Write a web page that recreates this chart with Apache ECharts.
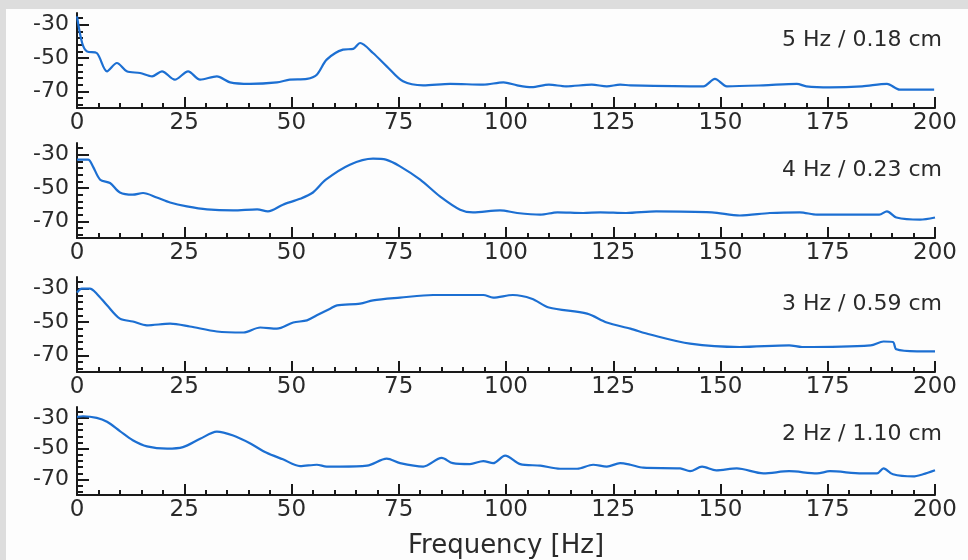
<!DOCTYPE html>
<html>
<head>
<meta charset="utf-8">
<script src="https://cdn.jsdelivr.net/npm/echarts@6/dist/echarts.min.js"></script>
<style>
  body { margin: 0; background: #dddddd; }
  #frame { position: absolute; left: 6px; top: 9px; width: 962px; height: 551px; background: #fdfdfd; }
  #chart { position: absolute; left: 0; top: 0; width: 968px; height: 560px; }
</style>
</head>
<body>
<div id="frame"></div>
<div id="chart"></div>
<script>
// spectra: [frequency Hz, level]
const spec5Hz = [[0,-25],[1.2,-41],[2.3,-46],[4.6,-47],[7,-58],[9.3,-53],[11.6,-58],[14.7,-59],[17.5,-61],[19.8,-58],[22.8,-63],[25.9,-58],[28.7,-63],[32.6,-61],[35.7,-64.6],[40.3,-65.5],[46.6,-64.6],[49.6,-63],[53.6,-62.5],[55.9,-60],[58.2,-51],[62,-45],[64.4,-44.5],[66,-41],[69,-47],[72.2,-55],[76,-64],[80.7,-66.4],[87,-65.5],[94.7,-66],[99.4,-64.6],[102.6,-66.4],[106,-67.5],[110,-66],[114,-67],[120,-66],[123.5,-67],[126.6,-66],[129,-66.4],[146,-67],[148.7,-62.5],[151.5,-67],[160,-66.4],[167.8,-65.5],[170,-67],[175.5,-67.6],[183,-67],[188.8,-65.5],[191.8,-69],[199.8,-69]]
const spec4Hz = [[0,-33],[2.6,-33],[3.7,-37],[5.4,-45],[7.7,-47],[10,-52.7],[13,-54],[15.4,-53],[18.6,-55.7],[21.7,-58.7],[25.6,-61],[30.3,-62.8],[36.4,-63.4],[42,-62.8],[44.5,-64],[48,-60],[52,-56.5],[55,-52.7],[58,-45],[63.6,-36],[69,-32.4],[72,-33],[75.3,-37],[80,-45],[84.6,-55],[89.3,-63],[92.3,-64.6],[98.6,-63.4],[102.6,-65],[108,-66],[112,-64.6],[118,-65],[122,-64.6],[128,-65],[135,-64],[148,-64.6],[154.5,-66.5],[161.5,-65],[168.5,-64.6],[172.5,-66],[187,-66],[188.8,-64],[191,-67.7],[196.5,-69],[200,-67.7]]
const spec3Hz = [[0,-32.4],[1.1,-30],[3,-30],[4.6,-33],[7,-40],[10,-48],[13,-49.7],[16.3,-52],[21.7,-51],[26.3,-52.7],[32.6,-55.7],[38.8,-56.3],[42.7,-53.3],[46.6,-54],[50.4,-50.3],[53.6,-49],[55.9,-46],[59,-42],[60.6,-40],[66,-39],[69,-37],[75.3,-35.4],[83,-33.8],[94.7,-33.8],[97,-35.4],[101.6,-33.8],[106,-36],[110,-41.3],[118.9,-45],[123.5,-50.3],[129,-54],[133.6,-57.5],[142.9,-63],[154.5,-65],[166,-64],[169,-65],[185,-64],[188,-61.7],[190.2,-62],[191,-66.4],[195.8,-67.6],[200,-67.6]]
const spec2Hz = [[0,-29.4],[1.4,-29],[4.6,-30],[7,-32.6],[10,-38.6],[13,-44.5],[16.3,-48.5],[21,-50],[24.7,-49],[28.7,-43.6],[32.6,-39],[36.4,-41.5],[40.3,-46.5],[44.2,-52.7],[48,-56.9],[52,-61.3],[55.9,-60.4],[58.2,-61.6],[61.3,-61.6],[67.6,-61],[72.2,-56.5],[75.3,-59.4],[80.7,-61.6],[85,-56],[87.6,-59.4],[91.6,-60],[94.7,-58],[97,-59.4],[99.8,-54.5],[103.3,-60],[108,-61],[112.6,-63],[116.6,-63],[120.3,-60.4],[123.5,-61.6],[126.6,-59.4],[129,-60.4],[132,-62.3],[140.6,-62.8],[142.9,-64.6],[145.7,-61.6],[149,-64],[153.8,-62.8],[160,-66],[166,-64.6],[172.5,-66],[175.5,-64.6],[183,-66],[186.5,-66],[188,-62.8],[190.2,-66.6],[194.9,-68],[197.2,-66.6],[200,-64]]

const panelData = [spec5Hz, spec4Hz, spec3Hz, spec2Hz]
const panelTitles = ['5 Hz / 0.18 cm', '4 Hz / 0.23 cm', '3 Hz / 0.59 cm', '2 Hz / 1.10 cm']
const yLabelValues = [-30, -50, -70]
const yMinorValues = [-78, -74, -66, -62, -58, -54, -46, -42, -38, -34, -26]
const xMinorValues = [5, 10, 15, 20, 30, 35, 40, 45, 55, 60, 65, 70, 80, 85, 90, 95, 105, 110, 115, 120,
  130, 135, 140, 145, 155, 160, 165, 170, 180, 185, 190, 195]

const font = 'DejaVu Sans'
const ink = '#1a1a1a'
const txt = '#2a2a2a'
const lineBlue = '#1c6fd2'
const gridTops = [13, 143, 277, 407]
const gridHeight = 95

const chart = echarts.init(document.getElementById('chart'))

const grid = gridTops.map((top) => ({ left: 77, right: 33, top: top, height: gridHeight }))

const xAxis = []
const yAxis = []
gridTops.forEach((_, i) => {
  // main x axis: line, long ticks, labels
  xAxis.push({
    type: 'value',
    gridIndex: i,
    position: 'bottom',
    min: 0,
    max: 200,
    interval: 25,
    axisLine: { lineStyle: { color: ink, width: 2 } },
    axisTick: { inside: true, length: 11, lineStyle: { color: ink, width: 2 } },
    splitLine: { show: false },
    axisLabel: { fontFamily: font, fontSize: 23, color: txt, margin: 4, showMinLabel: true, showMaxLabel: true },
    name: i === 3 ? 'Frequency [Hz]' : '',
    nameLocation: 'middle',
    nameGap: 38,
    nameTextStyle: { fontFamily: font, fontSize: 26, color: txt },
  })
  // short x ticks only
  xAxis.push({
    type: 'value',
    gridIndex: i,
    position: 'bottom',
    min: 0,
    max: 200,
    axisLine: { show: false },
    axisTick: { show: true, inside: true, length: 5, customValues: xMinorValues, lineStyle: { color: ink, width: 2 } },
    axisLabel: { show: false },
    splitLine: { show: false },
  })
  // main y axis
  yAxis.push({
    type: 'value',
    gridIndex: i,
    position: 'left',
    min: -80,
    max: -23,
    axisLine: { show: true, lineStyle: { color: ink, width: 2 } },
    axisTick: { show: true, inside: true, length: 12, customValues: yLabelValues, lineStyle: { color: ink, width: 2 } },
    axisLabel: { customValues: yLabelValues, fontFamily: font, fontSize: 22, color: txt, margin: 8 },
    splitLine: { show: false },
  })
  // short y ticks only
  yAxis.push({
    type: 'value',
    gridIndex: i,
    position: 'left',
    min: -80,
    max: -23,
    axisLine: { show: false },
    axisTick: { show: true, inside: true, length: 6, customValues: yMinorValues, lineStyle: { color: ink, width: 2 } },
    axisLabel: { show: false },
    splitLine: { show: false },
  })
})

const series = panelData.map((data, i) => ({
  type: 'line',
  xAxisIndex: i * 2,
  yAxisIndex: i * 2,
  data: data,
  showSymbol: false,
  smooth: 0.3,
  lineStyle: { color: lineBlue, width: 2.2 },
}))

const graphic = panelTitles.map((text, i) => ({
  type: 'text',
  right: 26,
  top: gridTops[i] + gridHeight - 67 - 12,
  style: { text: text, fontFamily: font, fontSize: 22, fill: txt },
}))

chart.setOption({
  animation: false,
  grid: grid,
  xAxis: xAxis,
  yAxis: yAxis,
  series: series,
  graphic: graphic,
})
</script>
</body>
</html>
